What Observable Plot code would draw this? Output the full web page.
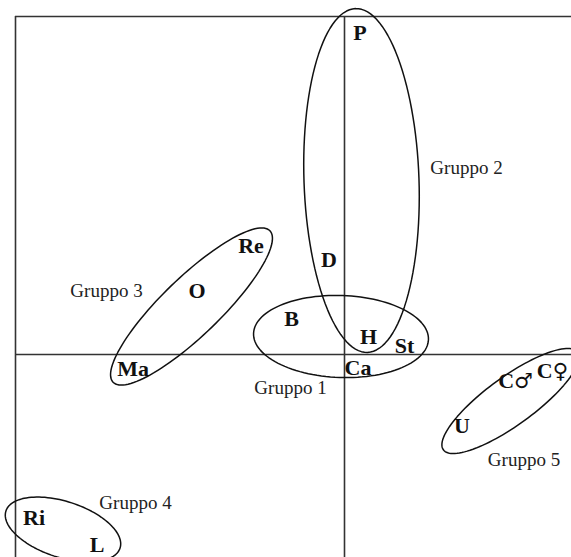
<!DOCTYPE html>
<html>
<head>
<meta charset="utf-8">
<script src="https://cdn.jsdelivr.net/npm/d3@7"></script>
<script src="https://cdn.jsdelivr.net/npm/@observablehq/plot@0.6"></script>
<style>
  html, body { margin: 0; padding: 0; background: #fff; overflow: hidden; }
  #chart { width: 571px; height: 557px; }
</style>
</head>
<body>
<div id="chart"></div>
<script>
// ---- Data (factor-plane coordinates, origin where the two axes cross) ----
const pointLabels = ["P", "D", "Re", "O", "Ma", "B", "H", "St", "Ca", "U", "C♂", "C♀", "Ri", "L"];
const pointX = [0.0775, -0.0775, -0.4675, -0.7375, -1.0575, -0.265, 0.12, 0.30, 0.0675, 0.5875, 0.855, 1.04, -1.5525, -1.2375];
const pointY = [1.6075, 0.4725, 0.5425, 0.3175, -0.0725, 0.1775, 0.09, 0.045, -0.0675, -0.3575, -0.13, -0.08, -0.8175, -0.9525];

const groupNames = ["Gruppo 1", "Gruppo 2", "Gruppo 3", "Gruppo 4", "Gruppo 5"];
const groupLabelX = [-0.27, 0.61, -1.19, -1.045, 0.8975];
const groupLabelY = [-0.165, 0.935, 0.32, -0.74, -0.525];

// ellipse outlines around each group: centre, semi-axes, rotation (degrees)
const ellipseCX = [-0.0175, 0.085, -0.765, -1.4075, 0.83];
const ellipseCY = [0.09, 0.87, 0.24, -0.875, -0.2325];
const ellipseA = [0.4375, 0.86, 0.545, 0.30, 0.415];
const ellipseB = [0.205, 0.2875, 0.145, 0.14, 0.12];
const ellipseAngle = [-2, 92, 44, -18, 36];

// frame and axes
const xDomain = [-1.72, 1.135];
const yDomain = [-1.015, 1.77];
const frameLeft = -1.645;
const frameTop = 1.69;

// ---- Build tables ----
const points = pointLabels.map((label, i) => ({label, x: pointX[i], y: pointY[i]}));
const groupLabels = groupNames.map((name, i) => ({name, x: groupLabelX[i], y: groupLabelY[i]}));
const ellipsePts = [];
groupNames.forEach((g, i) => {
  const th = ellipseAngle[i] * Math.PI / 180;
  const n = 120;
  for (let k = 0; k <= n; k++) {
    const t = 2 * Math.PI * k / n;
    const ex = ellipseA[i] * Math.cos(t), ey = ellipseB[i] * Math.sin(t);
    ellipsePts.push({
      group: g,
      x: ellipseCX[i] + ex * Math.cos(th) - ey * Math.sin(th),
      y: ellipseCY[i] + ex * Math.sin(th) + ey * Math.cos(th)
    });
  }
});

const chart = Plot.plot({
  width: 571,
  height: 557,
  margin: 0,
  x: {domain: xDomain, axis: null},
  y: {domain: yDomain, axis: null},
  style: {background: "#fff"},
  marks: [
    Plot.ruleX([frameLeft, 0], {x: d => d, y1: yDomain[0], y2: frameTop, stroke: "#333", strokeWidth: 1.6}),
    Plot.ruleY([frameTop, 0], {y: d => d, x1: frameLeft, x2: xDomain[1], stroke: "#333", strokeWidth: 1.6}),
    Plot.line(ellipsePts, {x: "x", y: "y", z: "group", stroke: "#111", strokeWidth: 1.5}),
    Plot.text(points, {
      x: "x", y: "y", text: "label",
      fontFamily: "Liberation Serif, DejaVu Sans, serif",
      fontSize: 22, fontWeight: "bold", fill: "#111"
    }),
    Plot.text(groupLabels, {
      x: "x", y: "y", text: "name",
      fontFamily: "Liberation Serif, Times New Roman, serif",
      fontSize: 19, fill: "#222"
    })
  ]
});

// enlarge the sex symbols so they match the letter height (as in the original figure)
d3.select(chart).selectAll("text").each(function() {
  const s = this.textContent;
  const m = s.match(/^(.*?)([♂♀])$/);
  if (!m) return;
  const t = d3.select(this);
  t.text(m[1]);
  t.append("tspan")
    .attr("font-family", "DejaVu Sans")
    .attr("font-weight", "normal")
    .attr("font-size", 21)
    .text(m[2]);
});

document.getElementById("chart").appendChild(chart);
</script>
</body>
</html>
